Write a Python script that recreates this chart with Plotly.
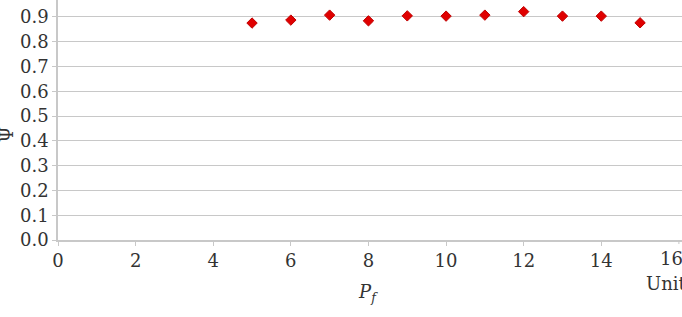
import plotly.graph_objects as go

pf = [5, 6, 7, 8, 9, 10, 11, 12, 13, 14, 15]
psi = [0.875, 0.887, 0.907, 0.884, 0.904, 0.903, 0.907, 0.921, 0.903, 0.903, 0.876]
x_ticks = [0, 2, 4, 6, 8, 10, 12, 14, 16]
y_ticks = [0.0, 0.1, 0.2, 0.3, 0.4, 0.5, 0.6, 0.7, 0.8, 0.9]

font = "DejaVu Serif"
tcol = "#333333"
fs = 18
fig = go.Figure()
fig.add_trace(go.Scatter(
    x=pf, y=psi, mode="markers",
    marker=dict(symbol="diamond", size=8, color="#e00000",
                line=dict(color="#c00000", width=1)),
    showlegend=False,
))
annotations = [
    dict(text="<i>P<sub>f</sub></i>", xref="paper", yref="paper", x=(368-58)/624,
         y=-(279-240)/240, yanchor="top", showarrow=False,
         font=dict(family=font, size=18, color=tcol)),
    dict(text="Units", xref="paper", yref="paper", x=(644-58)/624, xanchor="left",
         y=-(271-240)/240, yanchor="top", showarrow=False,
         font=dict(family=font, size=fs, color=tcol)),
    dict(text="Ψ", xref="paper", yref="paper", x=-58/624, xshift=-7, xanchor="left",
         y=(240-135)/240, yanchor="middle", textangle=-90, showarrow=False,
         font=dict(family=font, size=fs, color=tcol)),
]
# last x tick label sits on the right edge (plotly would hide it), so add it as text
last = x_ticks[-1]
annotations.append(dict(text=str(last), xref="x", yref="paper", x=last, y=0, yshift=-6,
                        xshift=-7, yanchor="top", showarrow=False,
                        font=dict(family=font, size=fs, color=tcol)))

fig.update_layout(
    width=682, height=317,
    margin=dict(l=58, r=0, t=0, b=77),
    plot_bgcolor="white", paper_bgcolor="white",
    font=dict(family=font, size=fs, color=tcol),
    xaxis=dict(range=[0, 16.08], tickvals=x_ticks[:-1], ticktext=[str(v) for v in x_ticks[:-1]],
               showgrid=False, zeroline=False, showline=True, linecolor="#c8c8c8",
               linewidth=1.5, ticks="outside", ticklen=4, tickcolor="#c8c8c8",
               tickfont=dict(family=font, size=fs, color=tcol)),
    yaxis=dict(range=[0, 0.968], tickvals=y_ticks, ticktext=[f"{v:.1f}" for v in y_ticks],
               showgrid=True, gridcolor="#c8c8c8", gridwidth=1.2, zeroline=False,
               showline=True, linecolor="#c8c8c8", linewidth=1.5,
               ticks="outside", ticklen=4, tickcolor="#c8c8c8",
               tickfont=dict(family=font, size=fs, color=tcol)),
    annotations=annotations,
)
fig.add_shape(type="line", xref="x", yref="y domain", x0=last, x1=last, y0=0, y1=-4/240,
              line=dict(color="#c8c8c8", width=1))
fig.write_html("out.html")
